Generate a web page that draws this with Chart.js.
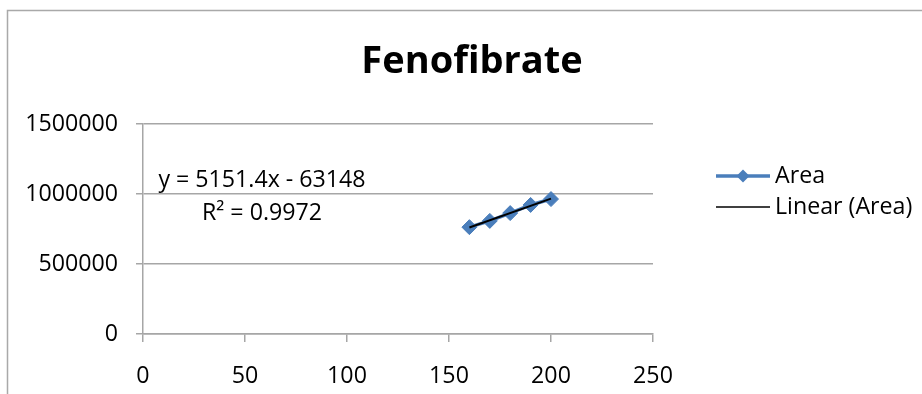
<!DOCTYPE html>
<html>
<head>
<meta charset="utf-8">
<script src="https://cdn.jsdelivr.net/npm/chart.js@4.4.1/dist/chart.umd.min.js"></script>
<style>
  html, body { margin: 0; padding: 0; background: #ffffff; }
  #wrap { width: 922px; height: 394px; position: relative; }
</style>
</head>
<body>
<div id="wrap"><canvas id="chart" width="922" height="394"></canvas></div>
<script>
// Calibration data: concentration vs. peak area
const concentrations = [160, 170, 180, 190, 200];
const areaValues = [763226, 808020, 863564, 921808, 963902];
const xTickValues = [0, 50, 100, 150, 200, 250];
const yTickValues = [0, 500000, 1000000, 1500000];
const chartTitle = 'Fenofibrate';
const seriesName = 'Area';
const trendName = 'Linear (Area)';

// Ordinary least-squares fit of the series
function linearFit(xs, ys) {
  const n = xs.length;
  const mx = xs.reduce((a, b) => a + b, 0) / n;
  const my = ys.reduce((a, b) => a + b, 0) / n;
  let sxy = 0, sxx = 0, syy = 0;
  for (let i = 0; i < n; i++) {
    sxy += (xs[i] - mx) * (ys[i] - my);
    sxx += (xs[i] - mx) ** 2;
    syy += (ys[i] - my) ** 2;
  }
  const slope = sxy / sxx;
  const intercept = my - slope * mx;
  const r2 = (sxy * sxy) / (sxx * syy);
  return { slope, intercept, r2 };
}

const fit = linearFit(concentrations, areaValues);
const xMin = Math.min(...concentrations);
const xMax = Math.max(...concentrations);
const trendPoints = [xMin, xMax].map(x => ({ x, y: fit.slope * x + fit.intercept }));
const eqText = 'y = ' + fit.slope.toFixed(1) + 'x ' + (fit.intercept < 0 ? '- ' : '+ ') +
  Math.abs(Math.round(fit.intercept));
const r2Text = 'R\u00B2 = ' + fit.r2.toFixed(4);

const FONT = '"Open Sans", "Liberation Sans", sans-serif';
const GRID = '#a6a6a6';
const BLUE = '#4a7ebb';
const TEXT_SIZE = 23.2;

const decor = {
  id: 'decor',
  afterDraw(chart) {
    const ctx = chart.ctx;
    ctx.save();
    // outer frame
    ctx.strokeStyle = '#a9a9a9';
    ctx.lineWidth = 1.5;
    ctx.strokeRect(7.5, 10.5, 1200, 1200);

    // title
    ctx.fillStyle = '#000';
    ctx.font = 'bold 38px ' + FONT;
    ctx.textAlign = 'center';
    ctx.textBaseline = 'middle';
    ctx.fillText(chartTitle, 472, 62);

    // trendline equation
    ctx.font = TEXT_SIZE + 'px ' + FONT;
    ctx.fillText(eqText, 262, 180);
    ctx.fillText(r2Text, 262, 213);

    // legend
    const lx0 = 716, lx1 = 770, tx = 775;
    const y1 = 176, y2 = 207;
    ctx.strokeStyle = BLUE;
    ctx.lineWidth = 3.5;
    ctx.beginPath(); ctx.moveTo(lx0, y1); ctx.lineTo(lx1, y1); ctx.stroke();
    ctx.fillStyle = BLUE;
    ctx.beginPath();
    const r = 6.5, cx = (lx0 + lx1) / 2;
    ctx.moveTo(cx, y1 - r); ctx.lineTo(cx + r, y1); ctx.lineTo(cx, y1 + r); ctx.lineTo(cx - r, y1);
    ctx.closePath(); ctx.fill();
    ctx.strokeStyle = '#000';
    ctx.lineWidth = 1.5;
    ctx.beginPath(); ctx.moveTo(lx0, y2); ctx.lineTo(lx1, y2); ctx.stroke();
    ctx.fillStyle = '#000';
    ctx.textAlign = 'left';
    ctx.fillText(seriesName, tx, y1);
    ctx.fillText(trendName, tx, y2);
    ctx.restore();
  }
};

new Chart(document.getElementById('chart'), {
  type: 'scatter',
  data: {
    datasets: [
      {
        label: trendName,
        data: trendPoints,
        showLine: true,
        borderColor: '#000000',
        borderWidth: 2,
        pointRadius: 0,
        order: 0
      },
      {
        label: seriesName,
        data: concentrations.map((x, i) => ({ x, y: areaValues[i] })),
        showLine: true,
        borderColor: BLUE,
        backgroundColor: BLUE,
        borderWidth: 3.5,
        pointStyle: 'rectRot',
        pointRadius: 7.5,
        pointBorderWidth: 1,
        pointBorderColor: BLUE,
        order: 1
      }
    ]
  },
  options: {
    responsive: false,
    animation: false,
    layout: { padding: { left: 23, top: 124, right: 269, bottom: 0 } },
    plugins: {
      legend: { display: false },
      title: { display: false },
      tooltip: { enabled: false }
    },
    scales: {
      x: {
        type: 'linear',
        min: xTickValues[0],
        max: xTickValues[xTickValues.length - 1],
        afterBuildTicks(scale) { scale.ticks = xTickValues.map(v => ({ value: v })); },
        afterFit(scale) { scale.height = 60; },
        ticks: {
          color: '#000',
          font: { family: FONT, size: TEXT_SIZE },
          padding: 20,
          maxRotation: 0,
          callback: v => String(v)
        },
        grid: { drawOnChartArea: false, color: GRID, lineWidth: 1.5, tickLength: 8 },
        border: { color: GRID, width: 1.5 }
      },
      y: {
        type: 'linear',
        min: yTickValues[0],
        max: yTickValues[yTickValues.length - 1],
        afterBuildTicks(scale) { scale.ticks = yTickValues.map(v => ({ value: v })); },
        afterFit(scale) { scale.width = 120; },
        ticks: {
          color: '#000',
          font: { family: FONT, size: TEXT_SIZE },
          padding: 18,
          callback: v => String(v)
        },
        grid: { color: GRID, lineWidth: 1.5, tickLength: 7 },
        border: { color: GRID, width: 1.5 }
      }
    }
  },
  plugins: [decor]
});
</script>
</body>
</html>
